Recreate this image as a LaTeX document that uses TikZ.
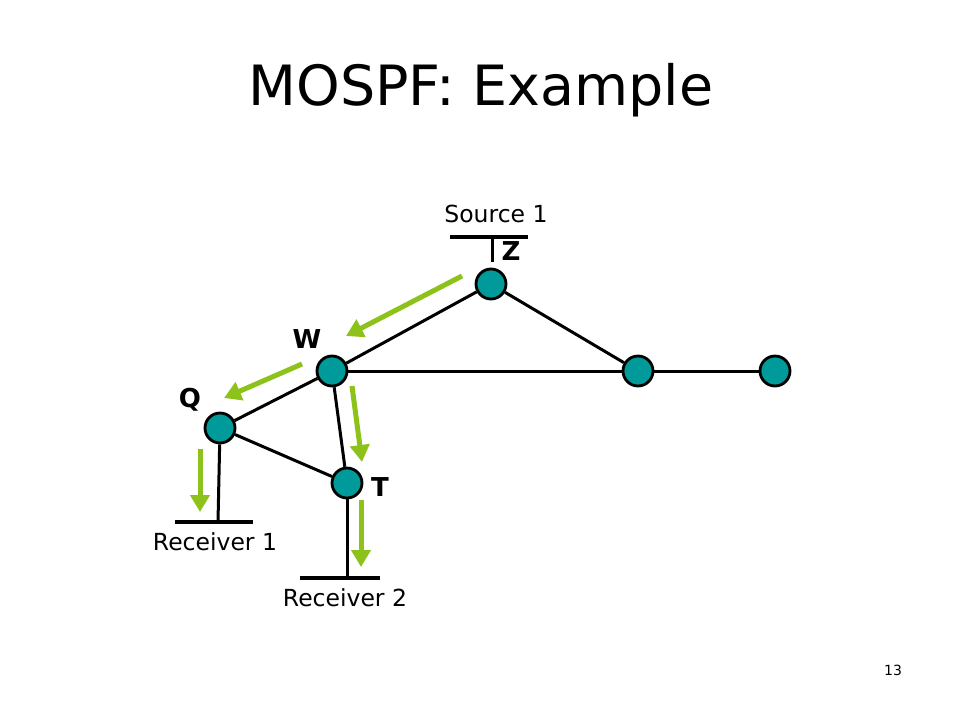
\documentclass[tikz,border=0pt]{standalone}
\usepackage{fontspec}
\setmainfont{DejaVu Sans}
\usetikzlibrary{arrows.meta}
\definecolor{teal2}{HTML}{009A9A}
\definecolor{agreen}{HTML}{8CC21A}
\begin{document}
\begin{tikzpicture}[x=1pt,y=-1pt,
  router/.style={circle,draw=black,line width=2.8pt,fill=teal2,minimum size=30pt,inner sep=0pt},
  link/.style={line width=3pt,black},
  lan/.style={line width=4.5pt,black},
  flow/.style={line width=5pt,agreen,-{Triangle[length=17pt,width=19pt]}},
  lbl/.style={font=\fontsize{23.5}{26}\selectfont},
  big/.style={font=\fontsize{26}{30}\selectfont\bfseries}]
\useasboundingbox (0,0) rectangle (960,720);
\node[font=\fontsize{55.5}{64}\selectfont] (title) at (481,90) {MOSPF: Example};
\node[router] (Z) at (491,284) {};
\node[router] (W) at (332,371) {};
\node[router] (Q) at (220,428) {};
\node[router] (T) at (347,483) {};
\node[router] (R1) at (638,371) {};
\node[router] (R2) at (775,371) {};
\draw[link] (Z) -- (W);
\draw[link] (Z) -- (R1);
\draw[link] (W) -- (R1);
\draw[link] (R1) -- (R2);
\draw[link] (W) -- (Q);
\draw[link] (W) -- (T);
\draw[link] (Q) -- (T);
% source LAN
\coordinate (sl) at (450,237); \coordinate (sr) at (528,237);
\draw[lan] (sl) -- (sr);
\coordinate (st) at (492,237); \coordinate (sb) at (492,262);
\draw[link] (st) -- (sb);
\node[lbl] (src) at (496,214) {Source 1};
\node[font=\fontsize{26}{30}\selectfont\bfseries] (zl) at (511,251) {Z};
% receivers
\coordinate (q2) at (218,522);
\draw[link] (Q) -- (q2);
\coordinate (b1l) at (175,522); \coordinate (b1r) at (253,522);
\draw[lan] (b1l) -- (b1r);
\node[lbl] (rec1) at (215,542) {Receiver 1};
\coordinate (t2) at (347,578);
\draw[link] (T) -- (t2);
\coordinate (b2l) at (300,578); \coordinate (b2r) at (380,578);
\draw[lan] (b2l) -- (b2r);
\node[lbl] (rec2) at (345,598) {Receiver 2};
% labels
\node[big] (wl) at (307,339) {W};
\node[big] (ql) at (190,400) {Q};
\node[big] (tl) at (380,487) {T};
% flow arrows
\coordinate (a1s) at (462,276); \coordinate (a1e) at (346,336);
\draw[flow] (a1s) -- (a1e);
\coordinate (a2s) at (302,364); \coordinate (a2e) at (224,398);
\draw[flow] (a2s) -- (a2e);
\coordinate (a3s) at (352,386); \coordinate (a3e) at (362,462);
\draw[flow] (a3s) -- (a3e);
\coordinate (a4s) at (200,449); \coordinate (a4e) at (200,512);
\draw[flow] (a4s) -- (a4e);
\coordinate (a5s) at (361,500); \coordinate (a5e) at (361,567);
\draw[flow] (a5s) -- (a5e);
\node[font=\fontsize{14}{16}\selectfont] (pg) at (893,670) {13};
\end{tikzpicture}
\end{document}
